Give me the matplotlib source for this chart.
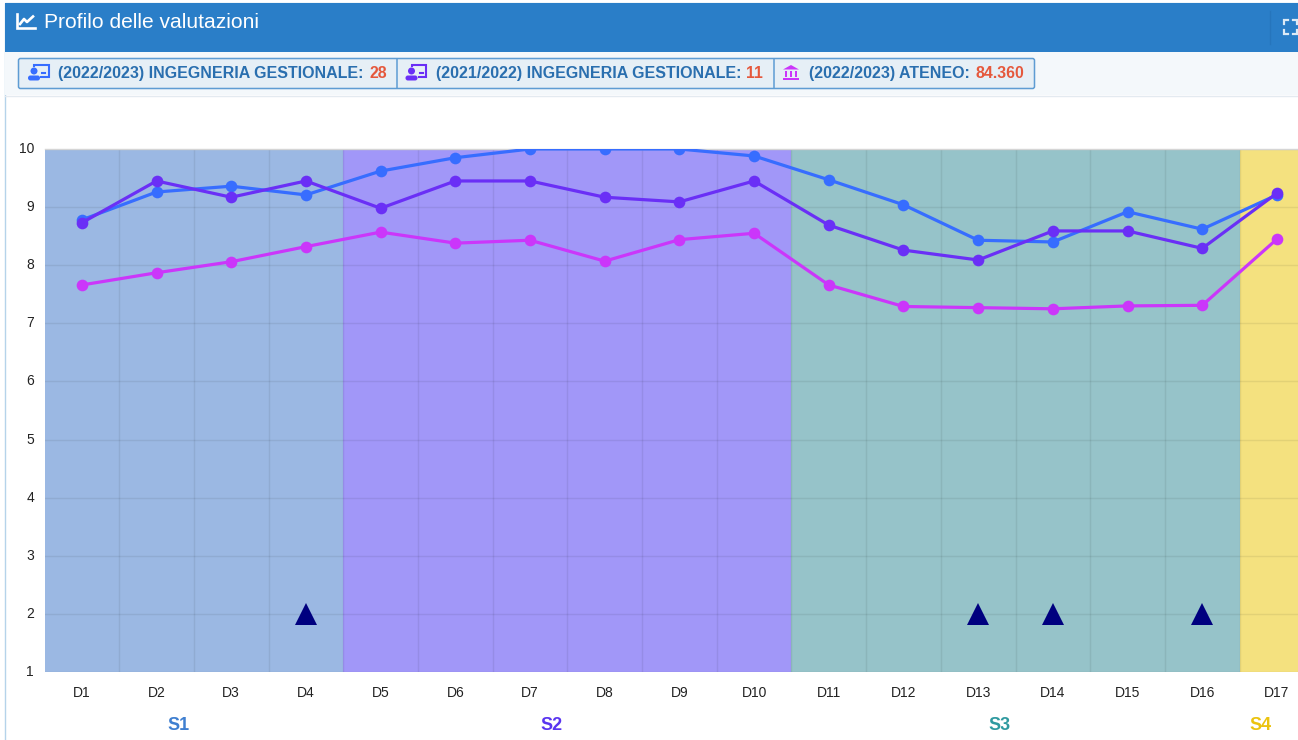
import matplotlib
matplotlib.use('Agg')
import matplotlib.pyplot as plt
from matplotlib.patches import Rectangle, Circle, FancyBboxPatch, Polygon
from matplotlib.transforms import offset_copy

plt.rcParams['font.family'] = ['Liberation Sans', 'DejaVu Sans']

W, H = 1298, 740

# data
labels = ['D%d' % i for i in range(1, 18)]
y_ticks = [1, 2, 3, 4, 5, 6, 7, 8, 9, 10]
ing_2223 = [8.78, 9.26, 9.36, 9.21, 9.62, 9.85, 10.0, 10.0, 10.0, 9.88, 9.47, 9.04, 8.43, 8.40, 8.92, 8.62, 9.21]
ing_2122 = [8.73, 9.45, 9.17, 9.45, 8.98, 9.45, 9.45, 9.17, 9.09, 9.45, 8.69, 8.26, 8.09, 8.59, 8.59, 8.29, 9.24]
ateneo = [7.66, 7.87, 8.06, 8.32, 8.57, 8.38, 8.43, 8.07, 8.44, 8.55, 7.66, 7.29, 7.27, 7.25, 7.30, 7.31, 8.45]
flag_days = ['D4', 'D13', 'D14', 'D16']
flag_values = [2, 2, 2, 2]
sections = ['S1', 'S2', 'S3', 'S4']
section_spans = [(-0.5, 3.5), (3.5, 9.5), (9.5, 15.5), (15.5, 16.5)]
section_label_x = [1.29, 6.29, 12.29, 15.78]
section_fill = ['#9BB8E3', '#A197F8', '#96C3C9', '#F4E17F']
section_text = ['#3F7FD0', '#5A35F0', '#2F9AA0', '#EBC30F']
legend_names = ['(2022/2023) INGEGNERIA GESTIONALE:', '(2021/2022) INGEGNERIA GESTIONALE:', '(2022/2023) ATENEO:']
legend_counts = ['28', '11', '84.360']

BLUE = '#376DFF'
PURPLE = '#6A2FF6'
MAGENTA = '#CB36FA'

fig = plt.figure(figsize=(W / 100, H / 100), dpi=100, facecolor='white')

# page chrome, drawn in pixel coordinates
bg = fig.add_axes([0, 0, 1, 1], zorder=0)
bg.set_xlim(0, W)
bg.set_ylim(H, 0)
bg.axis('off')
bg.add_patch(Rectangle((4.5, 3), W, H, fc='white', ec='#B5D3EA', lw=1))
bg.add_patch(Rectangle((5, 3), W, 49, fc='#2A7EC8', ec='none'))
bg.add_patch(Rectangle((5, 52), W, 43, fc='#F4F8FB', ec='none'))
bg.plot([5, W], [95.5, 95.5], color='#E4EAF0', lw=1)
bg.plot([1269.5, 1269.5], [11, 44], color='#2675BC', lw=1)

# title and its icon
bg.text(44, 23, 'Profilo delle valutazioni', color='white', fontsize=15.1, va='center', ha='left')
bg.plot([16.5, 16.5, 35], [14, 28, 28], color='white', lw=1.9, solid_joinstyle='miter')
bg.plot([20, 24, 27, 33], [24, 19, 22, 16.5], color='white', lw=1.9)

# fullscreen icon
for cx, cy, sx, sy in [(1284, 20, 1, 1), (1297, 20, -1, 1), (1284, 34, 1, -1), (1297, 34, -1, -1)]:
    bg.plot([cx, cx, cx + 4 * sx], [cy + 4 * sy, cy, cy], color='#DCEAF6', lw=1.6, solid_joinstyle='miter')

# legend strip
bg.add_patch(FancyBboxPatch((18.5, 58.5), 1016, 30, boxstyle='round,pad=0,rounding_size=2',
                            fc='#E6EFF6', ec='#5E9CD3', lw=1.1))
for x in [396.5, 773.5]:
    bg.plot([x, x], [59, 88], color='#5E9CD3', lw=1.1)


def person_icon(x, color):
    bg.add_patch(Circle((x + 6, 71), 3.5, fc=color, ec='none'))
    bg.add_patch(FancyBboxPatch((x, 75.5), 12, 5, boxstyle='round,pad=0,rounding_size=2.4', fc=color, ec='none'))
    bg.plot([x + 6, x + 6, x + 20.5, x + 20.5, x + 13], [66, 65, 65, 77, 77], color=color, lw=1.5, solid_joinstyle='miter')
    bg.plot([x + 14, x + 17], [73, 73], color=color, lw=1.5)


person_icon(28, BLUE)
person_icon(405.5, PURPLE)
bg.add_patch(Polygon([[783, 69.5], [791, 65], [799, 69.5]], fc=MAGENTA, ec='none'))
bg.add_patch(Rectangle((783, 78), 16, 2.2, fc=MAGENTA, ec='none'))
for x in [785, 790, 795]:
    bg.add_patch(Rectangle((x, 70.5), 2.2, 6.5, fc=MAGENTA, ec='none'))

name_x = [58, 436, 809]
count_x = [369, 746, 976]
for name, count, nx, cx in zip(legend_names, legend_counts, name_x, count_x):
    bg.text(nx, 73.5, name, color='#2A6FAF', fontsize=11.55, fontweight='bold', va='center', ha='left')
    bg.text(cx, 73.5, count, color='#E5583C', fontsize=11.4, fontweight='bold', va='center', ha='left')

# main chart
left, right, top, bottom = 44.5, 1314.3, 149, 672
ax = fig.add_axes([left / W, 1 - bottom / H, (right - left) / W, (bottom - top) / H], zorder=1)
ax.patch.set_alpha(0)
x = list(range(len(labels)))
ax.set_xlim(-0.5, 16.5)
ax.set_ylim(1, 10)

for span, fill in zip(section_spans, section_fill):
    ax.axvspan(span[0], span[1], color=fill, lw=0, zorder=1)

for v in y_ticks:
    ax.axhline(v, color='black', alpha=0.07, lw=1, zorder=2)
for i in x:
    ax.axvline(i + 0.5, color='black', alpha=0.07, lw=1, zorder=2)

for values, color, z in [(ateneo, MAGENTA, 3), (ing_2223, BLUE, 4), (ing_2122, PURPLE, 5)]:
    ax.plot(x, values, color=color, lw=2.3, marker='o', ms=8.4, mew=0, zorder=z)

ax.plot([labels.index(d) for d in flag_days], flag_values, ls='none', marker='^', ms=16,
        color='#00007F', mew=0, zorder=6)

ax.set_xticks(x)
ax.set_xticklabels(labels)
ax.set_yticks(y_ticks)
ax.tick_params(axis='both', length=0, labelsize=10, colors='#222222')
ax.tick_params(axis='x', pad=10)
ax.tick_params(axis='y', pad=7.5)
# y labels sit a little above their grid lines in the original
for lab in ax.get_yticklabels():
    lab.set_transform(offset_copy(lab.get_transform(), fig=fig, y=1.5, units='dots'))
for s in ax.spines.values():
    s.set_visible(False)
ax.plot([0, 1], [1, 1], transform=ax.transAxes, color='#D5D5D5', lw=1, zorder=2, clip_on=False)

for name, px, color in zip(sections, section_label_x, section_text):
    ax.annotate(name, xy=(px, 1), xycoords='data', xytext=(0, -53.5 * 0.72), textcoords='offset points',
                ha='center', va='center', color=color, fontsize=13, fontweight='bold', annotation_clip=False)

fig.savefig('out.png', dpi=100)
